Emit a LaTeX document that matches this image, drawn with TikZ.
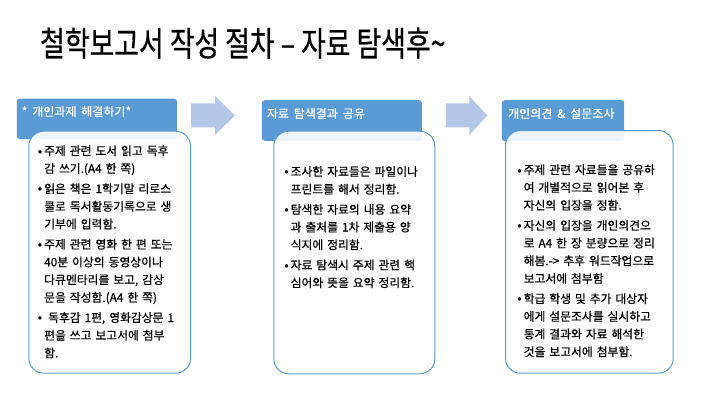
\documentclass[tikz,border=0pt]{standalone}
\usepackage{fontspec}
\setmainfont{Noto Sans CJK KR}[WordSpace=1.8, FakeBold=0.6]
\newfontfamily\titlefont{Noto Sans CJK KR}[FakeBold=0.6]
\newfontfamily\dejavu{DejaVu Sans}
\definecolor{hdrblue}{HTML}{5B9BD5}
\definecolor{arrblue}{HTML}{B4C7E7}
\newcommand\myitem{\makebox[6pt][l]{\raisebox{2.2pt}{\dejavu\fontsize{4.5}{5}\selectfont ●}}}
\newcommand\myind{\hspace*{6pt}}
\tikzset{
  hdrbox/.style={rectangle, rounded corners=3pt, fill=hdrblue, draw=none, inner sep=0pt, anchor=north west},
  bodybox/.style={rectangle, rounded corners=15pt, fill=white, fill opacity=0.9, draw=hdrblue, line width=1pt, inner sep=0pt, anchor=north west},
  hdrtext/.style={anchor=base west, inner sep=0pt, text=white, font=\fontsize{12}{14}\selectfont},
  bodytext/.style={anchor=north west, inner sep=0pt, text width=180pt, align=left, text=black, font=\fontsize{11.8}{17.7}\selectfont},
  blockarrow/.style={fill=arrblue, draw=none}
}
\begin{document}
\begin{tikzpicture}[x=1pt,y=-1pt]
\useasboundingbox (0,0) rectangle (720,405);

\node[anchor=base west, inner sep=0pt] (title) at (40,56)
  {\scalebox{0.79}[1]{\titlefont\fontsize{34}{40}\selectfont 철학보고서 작성 절차 – 자료 탐색후\textasciitilde}};

% block arrows
\path[blockarrow] (191,103.3) -- (215,103.3) -- (215,96) -- (235,115.5) -- (215,135) -- (215,127.3) -- (191,127.3) -- cycle;
\path[blockarrow] (446,103.3) -- (469.3,103.3) -- (469.3,96) -- (487.3,115.5) -- (469.3,135) -- (469.3,127.3) -- (446,127.3) -- cycle;

% headers
\node[hdrbox, minimum width=160pt, minimum height=40.7pt] (h1) at (16.7,98.3) {};
\node[hdrbox, minimum width=160pt, minimum height=40.7pt] (h2) at (261.7,100) {};
\node[hdrbox, minimum width=122.3pt, minimum height=41pt] (h3) at (501.7,100) {};

\node[hdrtext] (ht1) at (21.7,116) {* 개인과제 해결하기*};
\node[hdrtext] (ht2) at (266.7,118) {자료 탐색결과 공유};
\node[hdrtext] (ht3) at (508,118) {개인의견 \& 설문조사};

% body boxes
\node[bodybox, minimum width=161.7pt, minimum height=242pt] (b1) at (28.3,130.7) {};
\node[bodybox, minimum width=161pt, minimum height=242.6pt] (b2) at (273.3,130.7) {};
\node[bodybox, minimum width=167.7pt, minimum height=242.7pt] (b3) at (505,130) {};

\node[bodytext] (t1) at (38,143) {\rule{0pt}{12pt}\myitem 주제 관련 도서 읽고 독후\\
\myind 감 쓰기.(A4 한 쪽)\\[2.5pt]
\myitem 읽은 책은 1학기말 리로스\\
\myind 쿨로 독서활동기록으로 생\\
\myind 기부에 입력함.\\[2.5pt]
\myitem 주제 관련 영화 한 편 또는\\
\myind 40분 이상의 동영상이나\\
\myind 다큐멘타리를 보고, 감상\\
\myind 문을 작성함.(A4 한 쪽)\\[2.5pt]
\myitem\ 독후감 1편, 영화감상문 1\\
\myind 편을 쓰고 보고서에 첨부\\
\myind 함.};

\node[bodytext] (t2) at (284.5,163.7) {\rule{0pt}{12pt}\myitem 조사한 자료들은 파일이나\\
\myind 프린트를 해서 정리함.\\[2.5pt]
\myitem 탐색한 자료의 내용 요약\\
\myind 과 출처를 1차 제출용 양\\
\myind 식지에 정리함.\\[2.5pt]
\myitem 자료 탐색시 주제 관련 핵\\
\myind 심어와 뜻을 요약 정리함.};

\node[bodytext] (t3) at (517.5,162) {\rule{0pt}{12pt}\myitem 주제 관련 자료들을 공유하\\
\myind 여 개별적으로 읽어본 후\\
\myind 자신의 입장을 정함.\\[2.5pt]
\myitem 자신의 입장을 개인의견으\\
\myind 로 A4 한 장 분량으로 정리\\
\myind 해봄.-> 추후 워드작업으로\\
\myind 보고서에 첨부함\\[2.5pt]
\myitem 학급 학생 및 추가 대상자\\
\myind 에게 설문조사를 실시하고\\
\myind 통계 결과와 자료 해석한\\
\myind 것을 보고서에 첨부함.};
\end{tikzpicture}
\end{document}
